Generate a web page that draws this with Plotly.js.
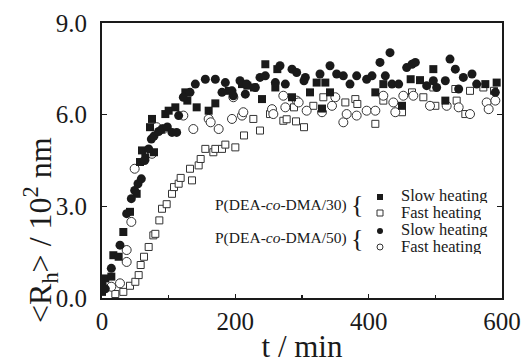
<!DOCTYPE html>
<html>
<head>
<meta charset="utf-8">
<script src="https://cdn.plot.ly/plotly-3.0.1.min.js"></script>
<style>html,body{margin:0;padding:0;background:#fff;}#chart{width:523px;height:364px;}</style>
</head>
<body>
<div id="chart"></div>
<script>
// P(DEA-co-DMA/30), slow heating (filled squares)
const slow30_t = [0, 5, 14, 17, 25, 32, 42, 52, 57, 60, 65, 72, 75, 78, 95, 100, 110, 125, 128, 142, 160, 170, 190, 210, 218, 228, 240, 245, 260, 263, 285, 312, 322, 330, 335, 342, 410, 422, 450, 463, 477, 497, 515, 575, 592];
const slow30_R = [0.2, 0.64, 0.70, 1.40, 1.35, 2.16, 2.82, 3.41, 4.45, 4.83, 4.60, 5.59, 5.86, 4.77, 6.02, 6.13, 6.24, 6.73, 6.46, 6.24, 6.13, 6.37, 6.78, 7.0, 6.95, 6.89, 6.51, 7.65, 6.89, 7.49, 6.57, 6.73, 7.05, 6.20, 7.05, 6.73, 6.73, 7.0, 6.29, 7.16, 7.13, 7.49, 6.46, 7.0, 7.05];
// P(DEA-co-DMA/30), fast heating (open squares)
const fast30_t = [20, 32, 42, 50, 55, 58, 63, 70, 77, 80, 86, 90, 97, 105, 108, 115, 118, 132, 135, 145, 148, 155, 167, 170, 180, 185, 200, 213, 227, 237, 252, 272, 277, 288, 291, 303, 317, 332, 365, 380, 383, 410, 422, 450, 465, 482, 497, 500, 530, 532, 545, 552, 572, 588];
const fast30_R = [0.13, 0.2, 0.40, 0.53, 0.75, 1.08, 1.35, 1.67, 2.05, 2.10, 2.54, 2.92, 3.07, 3.41, 3.63, 3.74, 3.93, 4.23, 3.85, 4.34, 4.55, 4.88, 4.77, 4.88, 4.88, 5.02, 4.93, 5.32, 5.86, 5.48, 6.02, 5.80, 5.85, 6.24, 5.78, 5.59, 6.29, 6.57, 6.40, 6.51, 6.35, 5.70, 6.46, 6.08, 6.73, 6.57, 6.89, 6.29, 6.84, 6.46, 6.02, 6.78, 6.89, 6.78];
// P(DEA-co-DMA/50), slow heating (filled circles)
const slow50_t = [0, 5, 14, 27, 37, 44, 49, 54, 59, 64, 70, 74, 78, 85, 90, 98, 105, 112, 115, 122, 132, 140, 155, 170, 180, 185, 195, 197, 207, 215, 217, 230, 237, 245, 260, 267, 275, 285, 292, 303, 305, 327, 342, 352, 362, 372, 382, 397, 405, 417, 425, 432, 435, 445, 457, 465, 470, 487, 497, 502, 515, 522, 530, 535, 542, 555, 562, 590];
const slow50_R = [0.48, 0.3, 0.97, 1.73, 2.76, 3.25, 3.52, 3.74, 3.9, 4.5, 4.88, 5.2, 5.3, 5.45, 5.53, 5.6, 5.42, 5.42, 5.97, 6.57, 6.73, 7.0, 7.16, 7.16, 6.73, 7.05, 6.78, 6.62, 7.11, 6.67, 7.0, 6.89, 7.22, 7.27, 7.05, 7.6, 7.0, 7.49, 7.38, 7.11, 7.22, 7.33, 7.6, 7.33, 7.27, 7.0, 7.27, 7.16, 7.27, 7.71, 7.27, 8.03, 7.0, 7.0, 7.54, 7.65, 7.71, 6.95, 7.11, 6.89, 7.11, 7.82, 7.49, 6.84, 7.22, 7.33, 7.0, 6.73];
// P(DEA-co-DMA/50), fast heating (open circles)
const fast50_t = [14, 27, 37, 37, 44, 49, 75, 82, 92, 122, 137, 160, 163, 175, 195, 197, 210, 212, 255, 257, 272, 275, 292, 295, 307, 330, 345, 350, 362, 367, 382, 397, 410, 422, 437, 440, 452, 467, 492, 517, 535, 552, 577, 580, 590];
const fast50_R = [0.37, 0.48, 1.18, 1.57, 2.49, 4.23, 4.72, 5.59, 5.53, 5.97, 5.53, 5.86, 5.75, 5.53, 5.86, 6.57, 5.97, 6.08, 6.18, 6.02, 6.62, 6.24, 6.46, 6.40, 6.13, 6.08, 6.29, 6.57, 5.75, 6.02, 5.97, 6.13, 6.13, 6.62, 6.40, 6.08, 6.62, 6.62, 6.29, 6.29, 6.24, 6.02, 6.40, 6.18, 6.46];

const xTickVals = [0, 200, 400, 600];
const xTickText = ['0', '200', '400', '600'];
const yTickVals = [0, 3, 6, 9];
const yTickText = ['0.0', '3.0', '6.0', '9.0'];
const groupLabels = ['P(DEA-<i>co</i>-DMA/30)', 'P(DEA-<i>co</i>-DMA/50)'];
const seriesLabels = ['Slow heating', 'Fast heating', 'Slow heating', 'Fast heating'];

const serif = 'Liberation Serif';
const ink = '#1a1a1a';

const traces = [
  {x: fast30_t, y: fast30_R, type: 'scatter', mode: 'markers', name: 'DMA/30 fast',
   marker: {symbol: 'square', size: 7, color: '#fff', line: {color: '#333', width: 1}}},
  {x: fast50_t, y: fast50_R, type: 'scatter', mode: 'markers', name: 'DMA/50 fast',
   marker: {symbol: 'circle', size: 9, color: '#fff', line: {color: '#333', width: 1}}},
  {x: slow30_t, y: slow30_R, type: 'scatter', mode: 'markers', name: 'DMA/30 slow',
   marker: {symbol: 'square', size: 8, color: ink, line: {width: 0}}},
  {x: slow50_t, y: slow50_R, type: 'scatter', mode: 'markers', name: 'DMA/50 slow',
   marker: {symbol: 'circle', size: 9, color: ink, line: {width: 0}}}
];

function px2x(px){ return (px - 102) / 400; }
function py2y(py){ return (298 - py) / 275; }

const annotations = [
  {xref: 'paper', yref: 'paper', x: px2x(348), y: py2y(205), xanchor: 'right', yanchor: 'middle',
   height: 18, borderpad: 0,
   text: groupLabels[0], showarrow: false, font: {family: serif, size: 15.5, color: ink}},
  {xref: 'paper', yref: 'paper', x: px2x(348), y: py2y(238), xanchor: 'right', yanchor: 'middle',
   height: 18, borderpad: 0,
   text: groupLabels[1], showarrow: false, font: {family: serif, size: 15.5, color: ink}},
  {xref: 'paper', yref: 'paper', x: px2x(357), y: py2y(204), xanchor: 'center', yanchor: 'middle',
   height: 28, borderpad: 0,
   text: '{', showarrow: false, font: {family: serif, size: 26, color: ink}},
  {xref: 'paper', yref: 'paper', x: px2x(357), y: py2y(238), xanchor: 'center', yanchor: 'middle',
   height: 28, borderpad: 0,
   text: '{', showarrow: false, font: {family: serif, size: 26, color: ink}}
];
const ys = [196, 213, 230, 247];
seriesLabels.forEach((s, i) => {
  annotations.push({xref: 'paper', yref: 'paper', x: px2x(400), y: py2y(ys[i] - 1), xanchor: 'left', yanchor: 'middle',
    height: 16, borderpad: 0,
    text: s, showarrow: false, font: {family: serif, size: 16.5, color: ink}});
});
// y axis title
annotations.push({xref: 'paper', yref: 'paper', x: px2x(40), y: py2y(230), xanchor: 'center', yanchor: 'middle',
  textangle: -90, text: '<R<sub>h</sub>> / 10<sup>2</sup> nm', showarrow: false,
  font: {family: serif, size: 32, color: ink}});

const s = 3;
const shapes = [
  {type: 'rect', xref: 'paper', yref: 'paper', x0: px2x(380 - s), x1: px2x(380 + s), y0: py2y(197 + s), y1: py2y(197 - s),
   fillcolor: ink, line: {width: 0}},
  {type: 'rect', xref: 'paper', yref: 'paper', x0: px2x(380 - s), x1: px2x(380 + s), y0: py2y(213 + s), y1: py2y(213 - s),
   fillcolor: '#fff', line: {color: '#333', width: 1}},
  {type: 'circle', xref: 'paper', yref: 'paper', x0: px2x(380 - s), x1: px2x(380 + s), y0: py2y(231 + s), y1: py2y(231 - s),
   fillcolor: ink, line: {width: 0}},
  {type: 'circle', xref: 'paper', yref: 'paper', x0: px2x(380 - s), x1: px2x(380 + s), y0: py2y(247 + s), y1: py2y(247 - s),
   fillcolor: '#fff', line: {color: '#333', width: 1}}
];

const layout = {
  width: 523, height: 364,
  margin: {l: 102, r: 21, t: 23, b: 66, pad: 0},
  paper_bgcolor: '#fff', plot_bgcolor: '#fff',
  showlegend: false,
  font: {family: serif, color: ink},
  xaxis: {
    range: [0, 600], tickvals: xTickVals, ticktext: xTickText,
    ticks: 'inside', ticklen: 4, tickwidth: 1.5, tickcolor: ink,
    minor: {tickvals: [100, 300, 500], ticks: 'inside', ticklen: 3, tickwidth: 1.5, tickcolor: ink},
    showline: true, linecolor: ink, linewidth: 2, mirror: true,
    showgrid: false, zeroline: false,
    tickfont: {family: serif, size: 25, color: ink},
    title: {text: 't / min', font: {family: serif, size: 31, color: ink}, standoff: 4}
  },
  yaxis: {
    range: [0, 9], tickvals: yTickVals, ticktext: yTickText,
    ticks: 'inside', ticklen: 5, tickwidth: 1.5, tickcolor: ink,
    showline: true, linecolor: ink, linewidth: 2, mirror: 'ticks',
    showgrid: false, zeroline: false,
    ticklabelstandoff: 8,
    tickfont: {family: serif, size: 25, color: ink}
  },
  annotations: annotations,
  shapes: shapes
};

Plotly.newPlot('chart', traces, layout, {displayModeBar: false, staticPlot: true});
</script>
</body>
</html>
